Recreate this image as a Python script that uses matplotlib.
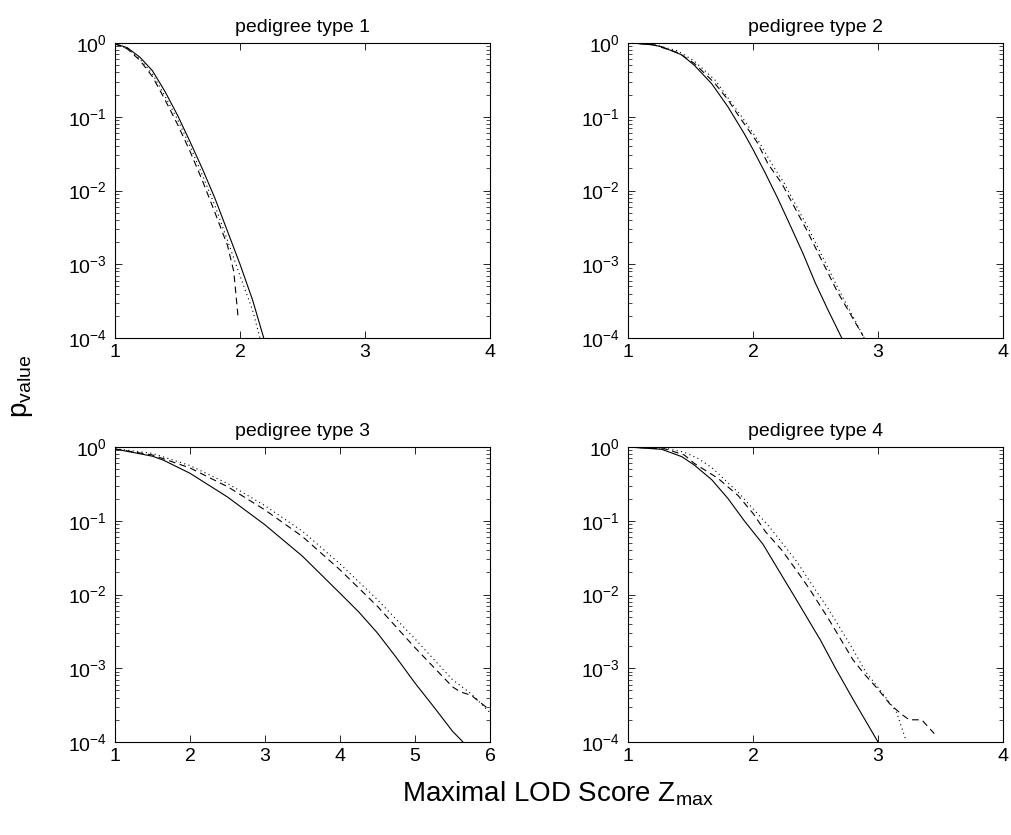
import numpy as np
import matplotlib
matplotlib.use("Agg")
import matplotlib.pyplot as plt
from matplotlib.ticker import LogLocator, FixedLocator

plt.rcParams['font.family'] = ['Liberation Sans', 'DejaVu Sans']
plt.rcParams['mathtext.fontset'] = 'custom'
plt.rcParams['mathtext.rm'] = 'Liberation Sans'
plt.rcParams['mathtext.it'] = 'Liberation Sans:italic'
plt.rcParams['mathtext.default'] = 'regular'

# pedigree type 1
x1_solid = [1.0, 1.1, 1.2, 1.3, 1.4, 1.5, 1.6, 1.7, 1.8, 1.9, 2.0, 2.1, 2.19]
y1_solid = [0.98, 0.86, 0.64, 0.42, 0.22, 0.105, 0.046, 0.0195, 0.0078, 0.0028, 0.001, 3.3e-4, 1e-4]
x1_dash = [1.0, 1.1, 1.2, 1.3, 1.4, 1.5, 1.6, 1.7, 1.8, 1.9, 1.95, 1.985]
y1_dash = [0.97, 0.83, 0.58, 0.35, 0.17, 0.079, 0.034, 0.0135, 0.005, 0.0018, 8e-4, 1.9e-4]
x1_dot = [1.0, 1.1, 1.2, 1.3, 1.4, 1.5, 1.6, 1.7, 1.8, 1.9, 2.0, 2.1, 2.16]
y1_dot = [0.97, 0.84, 0.6, 0.38, 0.19, 0.092, 0.04, 0.016, 0.0062, 0.0021, 7e-4, 2.4e-4, 1e-4]

# pedigree type 2
x2_solid = [1.0, 1.1, 1.2, 1.27, 1.43, 1.53, 1.67, 1.8, 1.93, 2.0, 2.1, 2.2, 2.3, 2.4, 2.5, 2.6, 2.71]
y2_solid = [1.0, 0.98, 0.94, 0.89, 0.69, 0.5, 0.28, 0.136, 0.059, 0.036, 0.017, 0.0077, 0.0033, 0.0014, 5.5e-4, 2.4e-4, 1e-4]
x2_dash = [1.0, 1.2, 1.4, 1.53, 1.69, 1.8, 1.89, 2.03, 2.12, 2.23, 2.43, 2.67, 2.88]
y2_dash = [1.0, 0.95, 0.74, 0.53, 0.29, 0.17, 0.1, 0.046, 0.023, 0.0125, 0.0029, 4.4e-4, 1.07e-4]
x2_dot = [1.0, 1.2, 1.4, 1.53, 1.7, 1.8, 1.91, 2.05, 2.15, 2.25, 2.45, 2.69, 2.89]
y2_dot = [1.0, 0.96, 0.78, 0.57, 0.31, 0.18, 0.1, 0.045, 0.023, 0.0125, 0.0029, 4.4e-4, 1e-4]

# pedigree type 3
x3_solid = [1.0, 1.5, 1.65, 2.0, 2.5, 3.0, 3.5, 4.0, 4.25, 4.5, 4.75, 5.0, 5.25, 5.5, 5.64]
y3_solid = [0.94, 0.75, 0.66, 0.44, 0.21, 0.088, 0.033, 0.0104, 0.0058, 0.003, 0.0014, 6.3e-4, 3e-4, 1.4e-4, 1e-4]
x3_dash = [1.0, 1.5, 2.0, 2.5, 3.0, 3.5, 4.0, 4.5, 5.0, 5.5, 5.6, 5.75, 6.0]
y3_dash = [0.94, 0.78, 0.52, 0.29, 0.14, 0.061, 0.0216, 0.0069, 0.0019, 5.6e-4, 4.8e-4, 4.3e-4, 2.7e-4]
x3_dot = [1.0, 1.5, 2.0, 2.5, 3.0, 3.5, 4.0, 4.5, 5.0, 5.5, 5.75, 6.0]
y3_dot = [0.95, 0.82, 0.56, 0.32, 0.16, 0.072, 0.026, 0.0085, 0.0025, 7e-4, 4.5e-4, 2.5e-4]

# pedigree type 4
x4_solid = [1.0, 1.27, 1.43, 1.53, 1.67, 1.8, 1.93, 2.08, 2.2, 2.33, 2.54, 2.66, 2.8, 3.0]
y4_solid = [1.0, 0.93, 0.74, 0.57, 0.36, 0.2, 0.1, 0.048, 0.022, 0.0095, 0.0024, 1e-3, 3.8e-4, 1e-4]
x4_dash = [1.0, 1.3, 1.45, 1.53, 1.72, 1.88, 2.0, 2.1, 2.23, 2.35, 2.45, 2.6, 2.8, 2.9, 3.0, 3.1, 3.2, 3.25, 3.35, 3.45]
y4_dash = [1.0, 0.94, 0.78, 0.6, 0.376, 0.22, 0.126, 0.071, 0.04, 0.021, 0.012, 0.0048, 0.0013, 8e-4, 5.2e-4, 3.2e-4, 2.3e-4, 2e-4, 2e-4, 1.3e-4]
x4_dot = [1.0, 1.3, 1.45, 1.56, 1.68, 1.89, 2.13, 2.35, 2.5, 2.6, 2.8, 2.9, 3.0, 3.1, 3.15, 3.22]
y4_dot = [1.0, 0.96, 0.85, 0.7, 0.51, 0.234, 0.083, 0.028, 0.0115, 0.0065, 0.0018, 9e-4, 5.5e-4, 3.3e-4, 2.5e-4, 1.1e-4]

titles = ['pedigree type 1', 'pedigree type 2', 'pedigree type 3', 'pedigree type 4']
xmax = [4, 4, 6, 4]
panels = [
    (x1_solid, y1_solid, x1_dash, y1_dash, x1_dot, y1_dot),
    (x2_solid, y2_solid, x2_dash, y2_dash, x2_dot, y2_dot),
    (x3_solid, y3_solid, x3_dash, y3_dash, x3_dot, y3_dot),
    (x4_solid, y4_solid, x4_dash, y4_dash, x4_dot, y4_dot),
]

fig = plt.figure(figsize=(10.12, 8.35), dpi=100)
W, H = 1012.0, 835.0
boxes = [(115, 43), (628, 43), (115, 447), (628, 447)]

for i in range(4):
    left, top = boxes[i]
    ax = fig.add_axes([left / W, 1 - (top + 295) / H, 375 / W, 295 / H])
    xs, ys, xd, yd, xo, yo = panels[i]
    ax.plot(xs, ys, color='black', lw=0.8, ls='-')
    ax.plot(xd, yd, color='black', lw=0.8, ls=(0, (6, 4)))
    ax.plot(xo, yo, color='black', lw=0.8, ls=(0, (1, 3)))
    ax.set_yscale('log')
    ax.set_ylim(1e-4, 1)
    ax.set_xlim(1, xmax[i])
    ax.xaxis.set_major_locator(FixedLocator(np.arange(1, xmax[i] + 1)))
    ax.yaxis.set_major_locator(LogLocator(base=10, numticks=10))
    ax.yaxis.set_minor_locator(LogLocator(base=10, subs=np.arange(2, 10), numticks=10))
    ax.tick_params(which='both', direction='in', top=True, right=True, labelsize=14)
    ax.tick_params(which='major', length=5, width=0.6)
    ax.tick_params(which='minor', length=3, width=0.5)
    ax.tick_params(axis='y', pad=6)
    ax.tick_params(axis='x', pad=4)
    for s in ax.spines.values():
        s.set_linewidth(0.8)
    ax.set_title(titles[i], fontsize=14, pad=8)

fig.text(0.022, 0.537, 'p$_{value}$', rotation=90, fontsize=20, ha='center', va='center')
fig.text(0.551, 0.05, 'Maximal LOD Score Z$_{max}$', fontsize=20, ha='center', va='center')

fig.savefig('out.png', dpi=100)
